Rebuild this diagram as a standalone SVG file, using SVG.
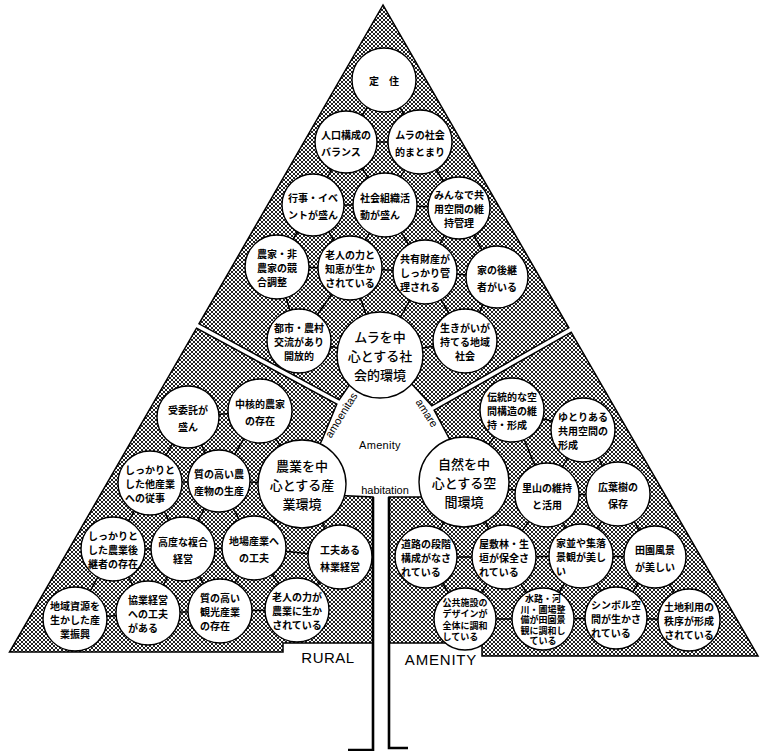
<svg xmlns="http://www.w3.org/2000/svg" width="760" height="751" viewBox="0 0 760 751">
<defs>
<pattern id="hatch" width="4" height="4" patternUnits="userSpaceOnUse">
<rect width="4" height="4" fill="#fff"/>
<path d="M0 0h1v1H0zM1 1h1v1H1zM2 2h1v1H2zM3 3h1v1H3zM3 0h1v1H3zM2 1h1v1H2zM1 2h1v1H1zM0 3h1v1H0z" fill="#222"/>
</pattern>
<style>
.reg{fill:url(#hatch);stroke:#000;stroke-width:1.5;stroke-linejoin:miter}
.c{fill:#fff;stroke:#000;stroke-width:1.4}
.t{font-family:"Noto Sans CJK JP","Noto Sans CJK SC",sans-serif;font-size:10px;font-weight:700;fill:#000;text-anchor:middle;dominant-baseline:central}
.l{text-anchor:start}
.s{font-size:9px}
.b{font-size:13px;font-weight:500}
.en{font-family:"Liberation Sans",Arial,sans-serif;fill:#000;text-anchor:middle}
.conn line{stroke:#000;stroke-width:1.5}
.trunk{stroke:#000;stroke-width:2.6;fill:none}
</style>
</defs>
<rect width="760" height="751" fill="#fff"/>
<g id="regions">
<polygon id="region-social" class="reg" points="383,5 199,323.8 339.2,399.8 350,384 410,382 431.8,405.8 568.8,327.8"/>
<polygon id="region-industry" class="reg" points="196.5,328.2 336.8,404.2 322,440 316,452 330,495 373,497 373,643 283,643 283,652 9.5,652"/>
<polygon id="region-space" class="reg" points="434.2,410.2 571.2,332.2 758,656 482,656 482,643 389,643 389,497 421,497 440,485 450,440"/>
</g>
<g id="trunk">
<path class="trunk" d="M373 497V750H348"/>
<path class="trunk" d="M389 497V748H408"/>
</g>
<g id="connectors" class="conn">
<line x1="384" y1="80" x2="346" y2="142"/>
<line x1="384" y1="80" x2="420" y2="142"/>
<line x1="346" y1="142" x2="420" y2="142"/>
<line x1="346" y1="142" x2="313" y2="205"/>
<line x1="346" y1="142" x2="385" y2="205"/>
<line x1="420" y1="142" x2="385" y2="205"/>
<line x1="420" y1="142" x2="459" y2="208"/>
<line x1="313" y1="205" x2="385" y2="205"/>
<line x1="385" y1="205" x2="459" y2="208"/>
<line x1="313" y1="205" x2="277" y2="267"/>
<line x1="313" y1="205" x2="350" y2="268"/>
<line x1="385" y1="205" x2="350" y2="268"/>
<line x1="385" y1="205" x2="425" y2="272"/>
<line x1="459" y1="208" x2="425" y2="272"/>
<line x1="459" y1="208" x2="497" y2="277"/>
<line x1="277" y1="267" x2="350" y2="268"/>
<line x1="350" y1="268" x2="425" y2="272"/>
<line x1="425" y1="272" x2="497" y2="277"/>
<line x1="277" y1="267" x2="299" y2="341"/>
<line x1="350" y1="268" x2="299" y2="341"/>
<line x1="350" y1="268" x2="380" y2="355"/>
<line x1="425" y1="272" x2="380" y2="355"/>
<line x1="425" y1="272" x2="465" y2="341"/>
<line x1="497" y1="277" x2="465" y2="341"/>
<line x1="299" y1="341" x2="380" y2="355"/>
<line x1="380" y1="355" x2="465" y2="341"/>
<line x1="188" y1="417" x2="260" y2="411"/>
<line x1="188" y1="417" x2="150" y2="483"/>
<line x1="188" y1="417" x2="219" y2="481"/>
<line x1="260" y1="411" x2="219" y2="481"/>
<line x1="260" y1="411" x2="302" y2="484"/>
<line x1="150" y1="483" x2="219" y2="481"/>
<line x1="219" y1="481" x2="302" y2="484"/>
<line x1="150" y1="483" x2="113" y2="549"/>
<line x1="150" y1="483" x2="183" y2="549"/>
<line x1="219" y1="481" x2="183" y2="549"/>
<line x1="219" y1="481" x2="254" y2="548"/>
<line x1="302" y1="484" x2="254" y2="548"/>
<line x1="302" y1="484" x2="340" y2="557"/>
<line x1="113" y1="549" x2="183" y2="549"/>
<line x1="183" y1="549" x2="254" y2="548"/>
<line x1="254" y1="548" x2="340" y2="557"/>
<line x1="113" y1="549" x2="75" y2="619"/>
<line x1="113" y1="549" x2="148" y2="613"/>
<line x1="183" y1="549" x2="148" y2="613"/>
<line x1="183" y1="549" x2="220" y2="611"/>
<line x1="254" y1="548" x2="220" y2="611"/>
<line x1="254" y1="548" x2="297" y2="610"/>
<line x1="340" y1="557" x2="297" y2="610"/>
<line x1="75" y1="619" x2="148" y2="613"/>
<line x1="148" y1="613" x2="220" y2="611"/>
<line x1="220" y1="611" x2="297" y2="610"/>
<line x1="512" y1="410" x2="583" y2="430"/>
<line x1="512" y1="410" x2="464" y2="482"/>
<line x1="512" y1="410" x2="547" y2="495"/>
<line x1="583" y1="430" x2="547" y2="495"/>
<line x1="583" y1="430" x2="618" y2="494"/>
<line x1="464" y1="482" x2="547" y2="495"/>
<line x1="547" y1="495" x2="618" y2="494"/>
<line x1="464" y1="482" x2="426" y2="557"/>
<line x1="464" y1="482" x2="504" y2="557"/>
<line x1="547" y1="495" x2="504" y2="557"/>
<line x1="547" y1="495" x2="581" y2="556"/>
<line x1="618" y1="494" x2="581" y2="556"/>
<line x1="618" y1="494" x2="655" y2="557"/>
<line x1="426" y1="557" x2="504" y2="557"/>
<line x1="504" y1="557" x2="581" y2="556"/>
<line x1="581" y1="556" x2="655" y2="557"/>
<line x1="426" y1="557" x2="465" y2="619"/>
<line x1="504" y1="557" x2="465" y2="619"/>
<line x1="504" y1="557" x2="543" y2="619"/>
<line x1="581" y1="556" x2="543" y2="619"/>
<line x1="581" y1="556" x2="616" y2="618"/>
<line x1="655" y1="557" x2="616" y2="618"/>
<line x1="655" y1="557" x2="689" y2="620"/>
<line x1="465" y1="619" x2="543" y2="619"/>
<line x1="543" y1="619" x2="616" y2="618"/>
<line x1="616" y1="618" x2="689" y2="620"/>
</g>
<g id="n-t1"><circle class="c" cx="384" cy="80" r="32"/><text class="t" x="384" y="80">定　住</text></g>
<g id="n-t2"><circle class="c" cx="346" cy="142" r="31"/><text class="t l"><tspan x="321" y="133.5">人口構成の</tspan><tspan x="321" y="150.5">バランス</tspan></text></g>
<g id="n-t3"><circle class="c" cx="420" cy="142" r="32"/><text class="t"><tspan x="420" y="133.5">ムラの社会</tspan><tspan x="420" y="150.5">的まとまり</tspan></text></g>
<g id="n-t4"><circle class="c" cx="313" cy="205" r="31"/><text class="t"><tspan x="313" y="196.5">行事・イベ</tspan><tspan x="313" y="213.5">ントが盛ん</tspan></text></g>
<g id="n-t5"><circle class="c" cx="385" cy="205" r="32"/><text class="t l"><tspan x="360" y="196.5">社会組織活</tspan><tspan x="360" y="213.5">動が盛ん</tspan></text></g>
<g id="n-t6"><circle class="c" cx="459" cy="208" r="31"/><text class="t"><tspan x="459" y="194">みんなで共</tspan><tspan x="459" y="208">用空間の維</tspan><tspan x="459" y="222">持管理</tspan></text></g>
<g id="n-t7"><circle class="c" cx="277" cy="267" r="32"/><text class="t l"><tspan x="257" y="253">農家・非</tspan><tspan x="257" y="267">農家の競</tspan><tspan x="257" y="281">合調整</tspan></text></g>
<g id="n-t8"><circle class="c" cx="350" cy="268" r="32"/><text class="t"><tspan x="350" y="254">老人の力と</tspan><tspan x="350" y="268">知恵が生か</tspan><tspan x="350" y="282">されている</tspan></text></g>
<g id="n-t9"><circle class="c" cx="425" cy="272" r="32"/><text class="t l"><tspan x="400" y="258">共有財産が</tspan><tspan x="400" y="272">しっかり管</tspan><tspan x="400" y="286">理される</tspan></text></g>
<g id="n-t10"><circle class="c" cx="497" cy="277" r="31"/><text class="t"><tspan x="497" y="268.5">家の後継</tspan><tspan x="497" y="285.5">者がいる</tspan></text></g>
<g id="n-t11"><circle class="c" cx="299" cy="341" r="32"/><text class="t"><tspan x="299" y="327">都市・農村</tspan><tspan x="299" y="341">交流があり</tspan><tspan x="299" y="355">開放的</tspan></text></g>
<g id="n-t12"><circle class="c" cx="380" cy="355" r="43"/><text class="t b"><tspan x="380" y="336">ムラを中</tspan><tspan x="380" y="355">心とする社</tspan><tspan x="380" y="374">会的環境</tspan></text></g>
<g id="n-t13"><circle class="c" cx="465" cy="341" r="32"/><text class="t"><tspan x="465" y="327">生きがいが</tspan><tspan x="465" y="341">持てる地域</tspan><tspan x="465" y="355">社会</tspan></text></g>
<g id="n-l1"><circle class="c" cx="188" cy="417" r="31"/><text class="t"><tspan x="188" y="408.5">受委託が</tspan><tspan x="188" y="425.5">盛ん</tspan></text></g>
<g id="n-l2"><circle class="c" cx="260" cy="411" r="32"/><text class="t"><tspan x="260" y="402.5">中核的農家</tspan><tspan x="260" y="419.5">の存在</tspan></text></g>
<g id="n-l3"><circle class="c" cx="150" cy="483" r="32"/><text class="t l"><tspan x="125" y="469">しっかりと</tspan><tspan x="125" y="483">した他産業</tspan><tspan x="125" y="497">への従事</tspan></text></g>
<g id="n-l4"><circle class="c" cx="219" cy="481" r="31"/><text class="t"><tspan x="219" y="472.5">質の高い農</tspan><tspan x="219" y="489.5">産物の生産</tspan></text></g>
<g id="n-l5"><circle class="c" cx="302" cy="484" r="44"/><text class="t b"><tspan x="302" y="465">農業を中</tspan><tspan x="302" y="484">心とする産</tspan><tspan x="302" y="503">業環境</tspan></text></g>
<g id="n-l6"><circle class="c" cx="113" cy="549" r="32"/><text class="t l"><tspan x="88" y="535">しっかりと</tspan><tspan x="88" y="549">した農業後</tspan><tspan x="88" y="563">継者の存在</tspan></text></g>
<g id="n-l7"><circle class="c" cx="183" cy="549" r="32"/><text class="t"><tspan x="183" y="540.5">高度な複合</tspan><tspan x="183" y="557.5">経営</tspan></text></g>
<g id="n-l8"><circle class="c" cx="254" cy="548" r="32"/><text class="t"><tspan x="254" y="539.5">地場産業へ</tspan><tspan x="254" y="556.5">の工夫</tspan></text></g>
<g id="n-l9"><circle class="c" cx="340" cy="557" r="32"/><text class="t"><tspan x="340" y="548.5">工夫ある</tspan><tspan x="340" y="565.5">林業経営</tspan></text></g>
<g id="n-l10"><circle class="c" cx="75" cy="619" r="32"/><text class="t"><tspan x="75" y="605">地域資源を</tspan><tspan x="75" y="619">生かした産</tspan><tspan x="75" y="633">業振興</tspan></text></g>
<g id="n-l11"><circle class="c" cx="148" cy="613" r="32"/><text class="t l"><tspan x="128" y="599">協業経営</tspan><tspan x="128" y="613">への工夫</tspan><tspan x="128" y="627">がある</tspan></text></g>
<g id="n-l12"><circle class="c" cx="220" cy="611" r="32"/><text class="t l"><tspan x="200" y="597">質の高い</tspan><tspan x="200" y="611">観光産業</tspan><tspan x="200" y="625">の存在</tspan></text></g>
<g id="n-l13"><circle class="c" cx="297" cy="610" r="32"/><text class="t"><tspan x="297" y="596">老人の力が</tspan><tspan x="297" y="610">農業に生か</tspan><tspan x="297" y="624">されている</tspan></text></g>
<g id="n-r1"><circle class="c" cx="512" cy="410" r="32"/><text class="t l"><tspan x="487" y="396">伝統的な空</tspan><tspan x="487" y="410">間構造の維</tspan><tspan x="487" y="424">持・形成</tspan></text></g>
<g id="n-r2"><circle class="c" cx="583" cy="430" r="32"/><text class="t l"><tspan x="558" y="416">ゆとりある</tspan><tspan x="558" y="430">共用空間の</tspan><tspan x="558" y="444">形成</tspan></text></g>
<g id="n-r3"><circle class="c" cx="464" cy="482" r="45"/><text class="t b"><tspan x="464" y="463">自然を中</tspan><tspan x="464" y="482">心とする空</tspan><tspan x="464" y="501">間環境</tspan></text></g>
<g id="n-r4"><circle class="c" cx="547" cy="495" r="32"/><text class="t"><tspan x="547" y="486.5">里山の維持</tspan><tspan x="547" y="503.5">と活用</tspan></text></g>
<g id="n-r5"><circle class="c" cx="618" cy="494" r="32"/><text class="t"><tspan x="618" y="485.5">広葉樹の</tspan><tspan x="618" y="502.5">保存</tspan></text></g>
<g id="n-r6"><circle class="c" cx="426" cy="557" r="31"/><text class="t l"><tspan x="401" y="543">道路の段階</tspan><tspan x="401" y="557">構成がなさ</tspan><tspan x="401" y="571">れている</tspan></text></g>
<g id="n-r7"><circle class="c" cx="504" cy="557" r="32"/><text class="t l"><tspan x="479" y="543">屋敷林・生</tspan><tspan x="479" y="557">垣が保全さ</tspan><tspan x="479" y="571">れている</tspan></text></g>
<g id="n-r8"><circle class="c" cx="581" cy="556" r="32"/><text class="t l"><tspan x="556" y="542">家並や集落</tspan><tspan x="556" y="556">景観が美し</tspan><tspan x="556" y="570">い</tspan></text></g>
<g id="n-r9"><circle class="c" cx="655" cy="557" r="31"/><text class="t"><tspan x="655" y="548.5">田園風景</tspan><tspan x="655" y="565.5">が美しい</tspan></text></g>
<g id="n-r10"><circle class="c" cx="465" cy="619" r="31"/><text class="t l s"><tspan x="442.5" y="601.75">公共施設の</tspan><tspan x="442.5" y="613.25">デザインが</tspan><tspan x="442.5" y="624.75">全体に調和</tspan><tspan x="442.5" y="636.25">している</tspan></text></g>
<g id="n-r11"><circle class="c" cx="543" cy="619" r="31"/><text class="t s"><tspan x="543" y="598">水路・河</tspan><tspan x="543" y="608.5">川・圃場整</tspan><tspan x="543" y="619">備が田園景</tspan><tspan x="543" y="629.5">観に調和し</tspan><tspan x="543" y="640">ている</tspan></text></g>
<g id="n-r12"><circle class="c" cx="616" cy="618" r="31"/><text class="t l"><tspan x="591" y="604">シンボル空</tspan><tspan x="591" y="618">間が生かさ</tspan><tspan x="591" y="632">れている</tspan></text></g>
<g id="n-r13"><circle class="c" cx="689" cy="620" r="31"/><text class="t"><tspan x="689" y="606">土地利用の</tspan><tspan x="689" y="620">秩序が形成</tspan><tspan x="689" y="634">されている</tspan></text></g>
<g id="labels">
<text class="en" x="380" y="449" font-size="11" letter-spacing="0.3">Amenity</text>
<text class="en" x="385" y="494" font-size="11">habitation</text>
<text class="en" font-size="11" dominant-baseline="central" transform="translate(341 415) rotate(-58)">amoenitas</text>
<text class="en" font-size="11" dominant-baseline="central" transform="translate(427 413) rotate(57)">amare</text>
<text class="en" x="328" y="663" font-size="15" letter-spacing="0.5">RURAL</text>
<text class="en" x="441" y="665" font-size="15" letter-spacing="0.8">AMENITY</text>
</g>
</svg>
